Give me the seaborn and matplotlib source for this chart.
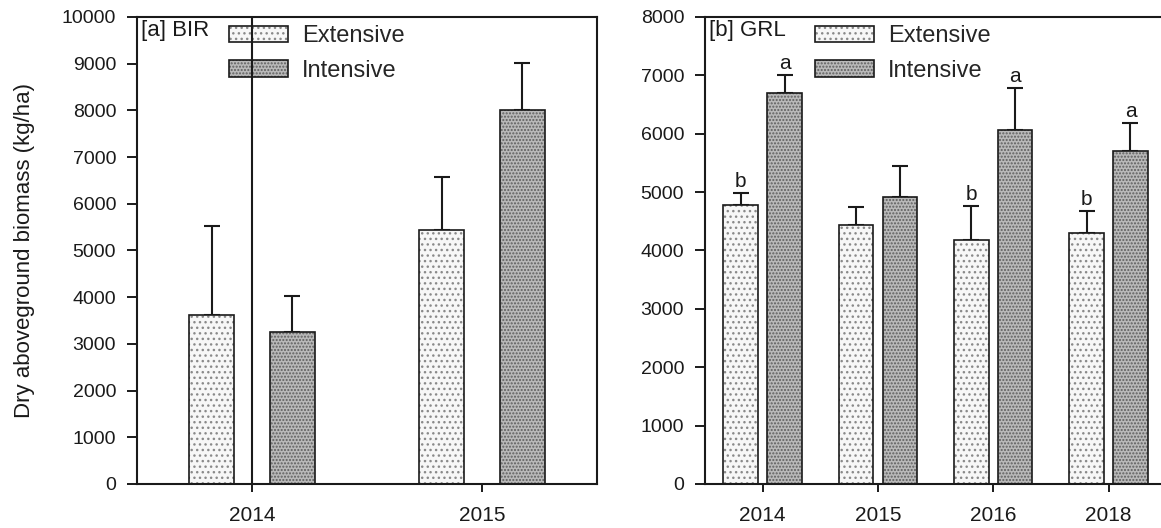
import numpy as np
import pandas as pd
import matplotlib
matplotlib.use("Agg")
import matplotlib.pyplot as plt
import seaborn as sns
from matplotlib.patches import Patch
from matplotlib.legend_handler import HandlerTuple

# ---------------- data ----------------
treatments = ["Extensive", "Intensive"]

bir_years = ["2014", "2015"]
bir_ext = [3620, 5440]
bir_ext_err = [1900, 1130]
bir_int = [3260, 8010]
bir_int_err = [770, 1010]

grl_years = ["2014", "2015", "2016", "2018"]
grl_ext = [4780, 4430, 4180, 4300]
grl_ext_err = [200, 310, 580, 370]
grl_int = [6700, 4920, 6060, 5700]
grl_int_err = [300, 520, 720, 480]
grl_ext_letters = ["b", "", "b", "b"]
grl_int_letters = ["a", "", "a", "a"]

# ---------------- style ----------------
sns.set_theme(style="ticks")
plt.rcParams["font.family"] = ["Liberation Sans", "DejaVu Sans"]
plt.rcParams["hatch.linewidth"] = 1.0

FACE = {"Extensive": "#f7f7f7", "Intensive": "#b9b9b9"}
HATCH_COL = {"Extensive": "#8a8a8a", "Intensive": "#5e5e5e"}
HATCH = {"Extensive": "...", "Intensive": "....."}
INK = "#1a1a1a"


def make_df(years, ext, ext_err, inten, int_err):
    return pd.DataFrame({
        "year": years * 2,
        "treatment": ["Extensive"] * len(years) + ["Intensive"] * len(years),
        "value": list(ext) + list(inten),
        "err": list(ext_err) + list(int_err),
    })


def draw_panel(ax, df, years, width, gap, ymax, ystep, label, legend_x,
               ext_letters=None, int_letters=None):
    # filled + hatched bars
    sns.barplot(data=df, x="year", y="value", hue="treatment", order=years,
                hue_order=treatments, width=width, gap=gap, ax=ax,
                legend=False, errorbar=None, linewidth=0,
                palette=[FACE[t] for t in treatments], saturation=1, zorder=2)
    for cont, t in zip(ax.containers, treatments):
        for p in cont:
            p.set_hatch(HATCH[t])
            p.set_edgecolor(HATCH_COL[t])
            p.set_linewidth(0)
    # black outlines
    sns.barplot(data=df, x="year", y="value", hue="treatment", order=years,
                hue_order=treatments, width=width, gap=gap, ax=ax,
                legend=False, errorbar=None, fill=False, linewidth=1.2,
                palette=[INK, INK], zorder=3)

    # error bars (upper only) at bar centres
    for i, t in enumerate(treatments):
        cont = ax.containers[i]
        sub = df[df.treatment == t].set_index("year").loc[years]
        xs = [p.get_x() + p.get_width() / 2 for p in cont]
        vals = sub["value"].values
        errs = sub["err"].values
        ax.errorbar(xs, vals, yerr=[np.zeros(len(errs)), errs], fmt="none",
                    ecolor=INK, elinewidth=1.5, capsize=5.5,
                    capthick=1.5, zorder=1.5)
        letters = ext_letters if t == "Extensive" else int_letters
        if letters:
            for x, v, e, l in zip(xs, vals, errs, letters):
                if l:
                    ax.text(x, v + e + ymax * 0.005, l, ha="center",
                            va="bottom", fontsize=15, color=INK)

    ax.set_ylim(0, ymax)
    ax.set_yticks(np.arange(0, ymax + 1, ystep))
    ax.set_xlabel("")
    ax.set_ylabel("")
    ax.tick_params(axis="y", direction="out", length=7, width=1.4,
                   labelsize=14, pad=8, colors=INK)
    ax.tick_params(axis="x", direction="out", length=6, width=1.4,
                   labelsize=15, pad=10, colors=INK)
    for s in ax.spines.values():
        s.set_linewidth(1.5)
        s.set_color(INK)

    ax.text(0.008, 0.993, label, transform=ax.transAxes, ha="left",
            va="top", fontsize=16, color=INK)

    handles = []
    for t in treatments:
        h1 = Patch(facecolor=FACE[t], edgecolor=HATCH_COL[t], hatch=HATCH[t],
                   linewidth=0)
        h2 = Patch(facecolor="none", edgecolor=INK, linewidth=1.2)
        handles.append((h1, h2))
    ax.legend(handles, treatments,
              handler_map={tuple: HandlerTuple(ndivide=1, pad=0)},
              loc="upper left", bbox_to_anchor=(legend_x, 0.992), frameon=False,
              fontsize=17, handlelength=2.5, handleheight=0.68,
              handletextpad=0.6, labelspacing=0.52, borderpad=0.2,
              borderaxespad=0)


fig = plt.figure(figsize=(11.61, 5.28), dpi=100)
W, H = 1161, 528
ax1 = fig.add_axes([137 / W, 44 / H, 460 / W, 467 / H])
ax2 = fig.add_axes([705 / W, 44 / H, 456 / W, 467 / H])

df_bir = make_df(bir_years, bir_ext, bir_ext_err, bir_int, bir_int_err)
df_grl = make_df(grl_years, grl_ext, grl_ext_err, grl_int, grl_int_err)

draw_panel(ax1, df_bir, bir_years, width=0.704, gap=0.443, ymax=10000,
           ystep=1000, label="[a] BIR", legend_x=0.19)
ax1.set_xlim(-0.5, 1.5)
ax1.axvline(0, color=INK, linewidth=1.5, zorder=6)

draw_panel(ax2, df_grl, grl_years, width=0.76, gap=0.21, ymax=8000,
           ystep=1000, label="[b] GRL", legend_x=0.23,
           ext_letters=grl_ext_letters, int_letters=grl_int_letters)
ax2.set_xlim(-0.5, 3.455)
ax2.spines["right"].set_visible(False)

fig.text(25 / W, 1 - 250 / H, "Dry aboveground biomass (kg/ha)",
         rotation=90, ha="center", va="center", fontsize=16, color=INK)

fig.savefig("out.png", dpi=100)
